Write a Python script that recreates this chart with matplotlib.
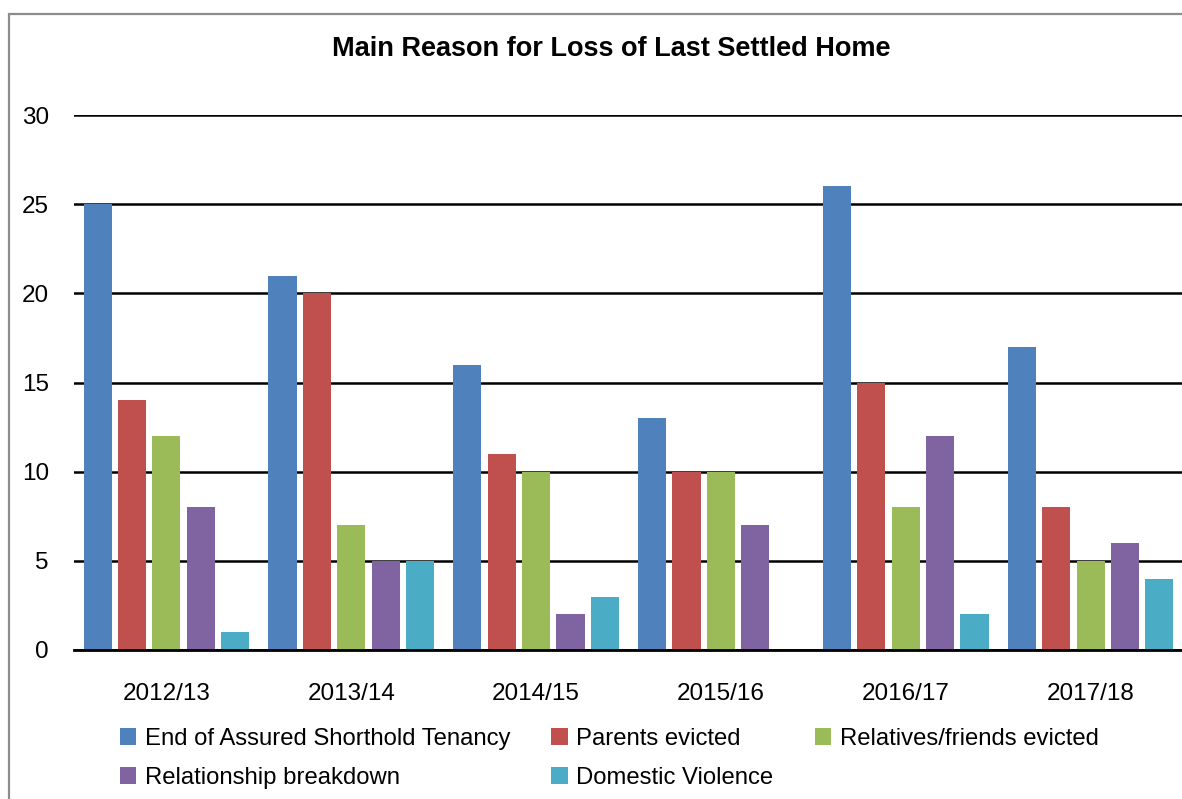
import numpy as np
import matplotlib.pyplot as plt
from matplotlib.patches import Rectangle

years = ['2012/13', '2013/14', '2014/15', '2015/16', '2016/17', '2017/18']
series_names = ['End of Assured Shorthold Tenancy', 'Parents evicted',
                'Relatives/friends evicted', 'Relationship breakdown', 'Domestic Violence']
end_ast = [25, 21, 16, 13, 26, 17]
parents = [14, 20, 11, 10, 15, 8]
relatives = [12, 7, 10, 10, 8, 5]
relationship = [8, 5, 2, 7, 12, 6]
domestic = [1, 5, 3, 0, 2, 4]
colors = ['#4F81BD', '#C0504D', '#9BBB59', '#8064A2', '#4BACC6']

plt.rcParams['font.family'] = ['Liberation Sans', 'DejaVu Sans']

W, H = 1182, 799
fig = plt.figure(figsize=(W / 100, H / 100), dpi=100)
ax = fig.add_axes([74 / W, 1 - 650 / H, (1183 - 74) / W, (650 - 115) / H])

# chart frame (cut off at right and bottom like the reference)
fig.patches.append(Rectangle((9 / W, -0.1), 1.2, 1 - 14 / H + 0.1, transform=fig.transFigure,
                             fill=False, edgecolor='#8C8C8C', lw=1.6))

data = [end_ast, parents, relatives, relationship, domestic]
x = np.arange(len(years))
pitch = 0.186
width = 0.152
handles = []
for i, vals in enumerate(data):
    b = ax.bar(x + (i - 2) * pitch, vals, width, color=colors[i], label=series_names[i], zorder=3)
    handles.append(b)

ax.set_xlim(-0.5, 5.5)
ax.set_ylim(0, 30)
ax.set_yticks(range(0, 31, 5))
ax.grid(axis='y', color='black', lw=1.8, zorder=1)
ax.set_axisbelow(True)
for s in ['top', 'right', 'left']:
    ax.spines[s].set_visible(False)
ax.spines['bottom'].set_linewidth(2.0)
ax.spines['bottom'].set_zorder(4)
ax.set_xticks(x)
ax.set_xticklabels(years)
ax.tick_params(axis='x', length=0, pad=24, labelsize=17.5)
ax.tick_params(axis='y', length=0, pad=18, labelsize=17.5)

fig.text(611 / W, 1 - 49 / H, 'Main Reason for Loss of Last Settled Home',
         ha='center', va='center', fontsize=19.5, fontweight='bold')

order = [0, 3, 1, 4, 2]
fig.legend([handles[k] for k in order], [series_names[k] for k in order],
           ncol=3, frameon=False, loc='upper left', bbox_to_anchor=(110 / W, 1 - 718 / H),
           fontsize=17.2, handlelength=0.7, handleheight=0.7, handletextpad=0.35,
           columnspacing=1.72, labelspacing=0.72, borderaxespad=0)

fig.savefig('out.png', dpi=100)
